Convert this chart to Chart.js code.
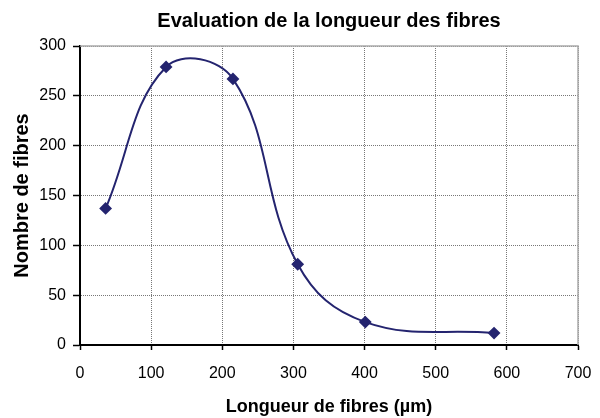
<!DOCTYPE html>
<html>
<head>
<meta charset="utf-8">
<script src="https://cdn.jsdelivr.net/npm/chart.js@4"></script>
<style>
  html, body { margin: 0; padding: 0; background: #fff; }
  #wrap { width: 600px; height: 418px; }
</style>
</head>
<body>
<div id="wrap"><canvas id="myChart" width="600" height="418"></canvas></div>
<script>
// longueur (µm) et nombre de fibres mesurées
var longueurs = [36, 121, 215, 306, 401, 582];
var nombres = [137, 279, 267, 81, 23, 12];

var xTicks = [0, 100, 200, 300, 400, 500, 600, 700];
var yTicks = [0, 50, 100, 150, 200, 250, 300];

var points = [];
for (var i = 0; i < longueurs.length; i++) {
    points.push({x: longueurs[i], y: nombres[i]});
}

var navy = '#24246f';
var police = 'Liberation Sans';

// cadre gris en haut et à droite de la zone de tracé
var cadre = {
    id: 'cadre',
    beforeDatasetsDraw: function(chart) {
        var a = chart.chartArea, ctx = chart.ctx;
        ctx.save();
        ctx.strokeStyle = '#aaaaaa';
        ctx.lineWidth = 1.5;
        ctx.beginPath();
        ctx.moveTo(a.left, a.top);
        ctx.lineTo(a.right, a.top);
        ctx.lineTo(a.right, a.bottom);
        ctx.stroke();
        ctx.restore();
    }
};

var ctx = document.getElementById('myChart').getContext('2d');
var myChart = new Chart(ctx, {
    type: 'scatter',
    data: {
        datasets: [{
            data: points,
            showLine: true,
            tension: 0.4,
            borderColor: navy,
            backgroundColor: navy,
            borderWidth: 2,
            pointStyle: 'rectRot',
            pointRadius: 5,
            pointHoverRadius: 5
        }]
    },
    options: {
        responsive: false,
        animation: false,
        layout: { padding: { top: 0, right: 22, left: 0, bottom: 0 } },
        plugins: {
            legend: { display: false },
            tooltip: { enabled: false },
            title: {
                display: true,
                fullSize: false,
                text: 'Evaluation de la longueur des fibres',
                color: '#000',
                font: { family: police, size: 20, weight: 'bold' },
                padding: { top: 9, bottom: 13 }
            }
        },
        scales: {
            x: {
                type: 'linear',
                min: 0,
                max: 700,
                afterBuildTicks: function(scale) {
                    scale.ticks = xTicks.map(function(v) { return {value: v}; });
                },
                afterFit: function(scale) {
                    scale.height = 73;
                    scale.paddingRight = 0;
                },
                ticks: {
                    color: '#000',
                    font: { family: police, size: 16 },
                    padding: 14,
                    maxRotation: 0
                },
                grid: {
                    color: '#777',
                    lineWidth: 1,
                    tickLength: 5,
                    tickColor: '#000',
                    tickWidth: 1.5
                },
                border: { display: true, color: '#000', width: 2, dash: [1, 1] },
                title: {
                    display: true,
                    text: 'Longueur de fibres (µm)',
                    color: '#000',
                    font: { family: police, size: 18, weight: 'bold' },
                    padding: { top: 4, bottom: 0 }
                }
            },
            y: {
                type: 'linear',
                min: 0,
                max: 300,
                afterBuildTicks: function(scale) {
                    scale.ticks = yTicks.map(function(v) { return {value: v}; });
                },
                afterFit: function(scale) { scale.width = 80; },
                ticks: {
                    color: '#000',
                    font: { family: police, size: 16 },
                    padding: 7
                },
                grid: {
                    color: '#777',
                    lineWidth: 1,
                    tickLength: 7,
                    tickColor: '#000',
                    tickWidth: 1.5
                },
                border: { display: true, color: '#000', width: 2, dash: [1, 1] },
                title: {
                    display: true,
                    text: 'Nombre de fibres',
                    color: '#000',
                    font: { family: police, size: 20, weight: 'bold' },
                    padding: { top: 10, bottom: 4 }
                }
            }
        }
    },
    plugins: [cadre]
});
</script>
</body>
</html>
